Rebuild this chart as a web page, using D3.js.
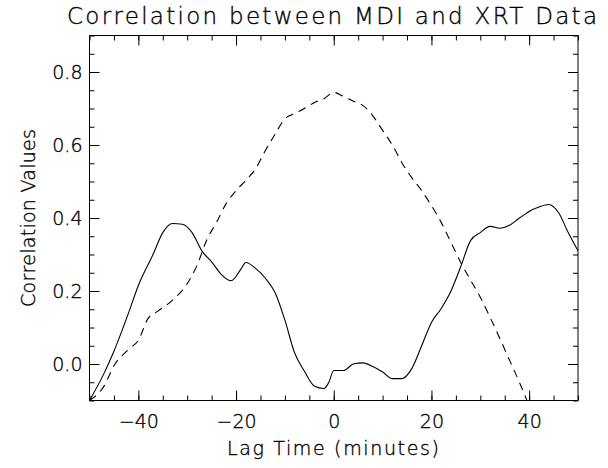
<!DOCTYPE html>
<html>
<head>
<meta charset="utf-8">
<script src="https://cdn.jsdelivr.net/npm/d3@7"></script>
<style>
  body { margin: 0; background: #fff; }
  text { font-family: "DejaVu Sans", sans-serif; font-weight: 200; fill: #000; stroke: #000; stroke-width: 0.35px; }
</style>
</head>
<body>
<svg id="chart" width="608" height="468"></svg>
<script>
// lag time (minutes)
var lagSolid = [-50, -47, -45, -42, -40, -37, -35, -33, -31, -29, -27, -25, -23, -21, -19, -18, -16, -14, -12,
    -10, -8, -6, -4, -2, -1, 0, 2, 4, 6, 8, 10, 12, 14, 16, 18, 20, 22, 24, 26, 28, 30, 32, 34, 36, 38,
    40, 42, 44, 46, 48, 50];
var corrSolid = [-0.1, -0.025, 0.035, 0.14, 0.215, 0.3, 0.36, 0.385, 0.383, 0.36, 0.31, 0.28, 0.245, 0.228, 0.26,
    0.278, 0.262, 0.235, 0.195, 0.12, 0.03, -0.02, -0.06, -0.067, -0.05, -0.018, -0.018, 0, 0.003, -0.007,
    -0.022, -0.04, -0.04, -0.012, 0.05, 0.114, 0.152, 0.2, 0.267, 0.338, 0.36, 0.377, 0.372, 0.38, 0.4,
    0.418, 0.43, 0.437, 0.415, 0.36, 0.31];
var lagDashed = [-50, -47, -45, -42, -40, -38, -36, -33, -30, -28, -26, -24, -22, -20, -18, -16, -14, -12,
    -10, -8, -6, -4, -2, 0, 2, 4, 6, 8, 10, 12, 14, 16, 18, 20, 22, 24, 26, 28, 30, 32, 34, 36, 38, 40];
var corrDashed = [-0.1, -0.06, -0.005, 0.04, 0.065, 0.125, 0.145, 0.175, 0.22, 0.27, 0.34, 0.388, 0.44,
    0.475, 0.503, 0.535, 0.585, 0.63, 0.672, 0.686, 0.7, 0.716, 0.727, 0.744, 0.733, 0.72, 0.708, 0.68,
    0.64, 0.6, 0.55, 0.51, 0.475, 0.434, 0.388, 0.333, 0.278, 0.23, 0.183, 0.128, 0.07, 0.01, -0.05, -0.115];
var xTicks = [-40, -20, 0, 20, 40];
var yTicks = [0.0, 0.2, 0.4, 0.6, 0.8];

var svg = d3.select("#chart"),
    plotL = 89.5, plotR = 578, plotT = 35.5, plotB = 400.5;

var x = d3.scaleLinear().domain([-50, 50]).range([plotL, plotR]);
var y = d3.scaleLinear().domain([-0.1, 0.9]).range([plotB, plotT]);

var xMinor = d3.range(-50, 50.01, 5),
    yMinor = d3.range(-0.1, 0.901, 0.05);

function box(axis, scale, major, minor, translate, tickFmt) {
    var g = svg.append("g").attr("transform", translate);
    // minor ticks
    g.append("g").call(axis(scale).tickValues(minor).tickSize(-5).tickFormat(""));
    g.append("g").attr("class", "major")
        .call(axis(scale).tickValues(major).tickSize(-10).tickFormat(tickFmt || ""));
    g.selectAll(".domain").remove();
    g.selectAll("line").attr("stroke", "#000").attr("stroke-width", 1);
    return g;
}

var gx = box(d3.axisBottom, x, xTicks, xMinor, "translate(0," + plotB + ")", function (d) {
    return d < 0 ? "\u2212" + Math.abs(d) : d;
});
gx.selectAll(".major text").attr("y", 0).attr("dy", "27px").style("font-size", "19px");

var gy = box(d3.axisLeft, y, yTicks, yMinor, "translate(" + plotL + ",0)", d3.format(".1f"));
gy.selectAll(".major text").attr("x", -7).attr("dy", "0.35em").style("font-size", "19px");

box(d3.axisTop, x, xTicks, xMinor, "translate(0," + plotT + ")");
box(d3.axisRight, y, yTicks, yMinor, "translate(" + plotR + ",0)");

svg.append("rect")
    .attr("x", plotL).attr("y", plotT)
    .attr("width", plotR - plotL).attr("height", plotB - plotT)
    .attr("fill", "none").attr("stroke", "#000").attr("stroke-width", 1);

svg.append("clipPath").attr("id", "clip")
    .append("rect").attr("x", plotL).attr("y", plotT)
    .attr("width", plotR - plotL).attr("height", plotB - plotT);

var line = d3.line().curve(d3.curveMonotoneX)
    .x(function (d) { return x(d[0]); })
    .y(function (d) { return y(d[1]); });

svg.append("path")
    .datum(d3.zip(lagSolid, corrSolid))
    .attr("clip-path", "url(#clip)")
    .attr("fill", "none").attr("stroke", "#000").attr("stroke-width", 1.1)
    .attr("d", line);

svg.append("path")
    .datum(d3.zip(lagDashed, corrDashed))
    .attr("clip-path", "url(#clip)")
    .attr("fill", "none").attr("stroke", "#000").attr("stroke-width", 1.1)
    .attr("stroke-dasharray", "8,6")
    .attr("d", line);

svg.append("text")
    .attr("x", 332).attr("y", 24)
    .attr("text-anchor", "middle")
    .attr("textLength", 530)
    .style("font-size", "23px")
    .text("Correlation between MDI and XRT Data");

svg.append("text")
    .attr("x", 333).attr("y", 455)
    .attr("text-anchor", "middle")
    .attr("textLength", 212)
    .style("font-size", "19px")
    .text("Lag Time (minutes)");

svg.append("text")
    .attr("transform", "translate(35,218) rotate(-90)")
    .attr("text-anchor", "middle")
    .attr("textLength", 178)
    .style("font-size", "19px")
    .text("Correlation Values");
</script>
</body>
</html>
